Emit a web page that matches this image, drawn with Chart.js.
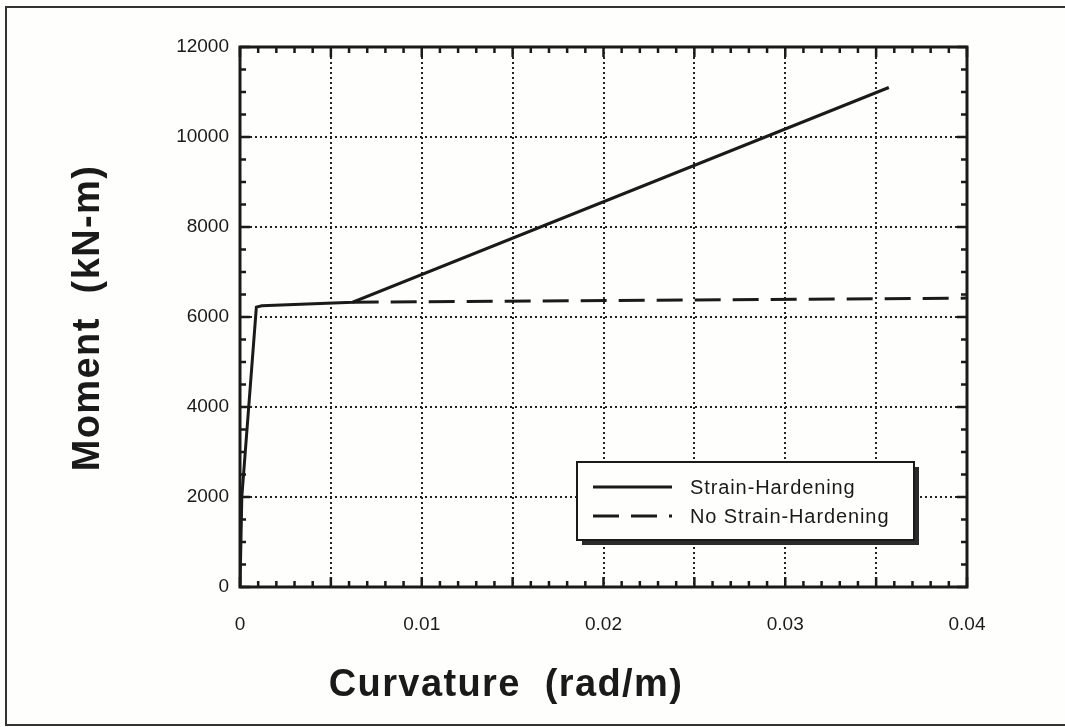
<!DOCTYPE html>
<html>
<head>
<meta charset="utf-8">
<script src="https://cdn.jsdelivr.net/npm/chart.js@4/dist/chart.umd.min.js"></script>
<style>
  html, body { margin: 0; padding: 0; background: #fefefc; }
  #wrap { width: 1065px; height: 727px; position: relative; }
</style>
</head>
<body>
<div id="wrap"><canvas id="c" width="1065" height="727"></canvas></div>
<script>
// Moment–curvature response of the section
const hardeningCurvature = [0, 0.0001, 0.0009, 0.0012, 0.0062, 0.0357];
const hardeningMoment    = [0, 2000, 6220, 6250, 6330, 11100];
const plainCurvature     = [0.0062, 0.0400];
const plainMoment        = [6330, 6420];

const seriesNames = ['Strain-Hardening', 'No Strain-Hardening'];
const xTitle = 'Curvature  (rad/m)';
const yTitle = 'Moment  (kN-m)';
const xTickLabels = ['0', '0.01', '0.02', '0.03', '0.04'];
const yTickLabels = ['0', '2000', '4000', '6000', '8000', '10000', '12000'];

const INK = '#1a1a1a';
const FAMILY = '"Liberation Sans", Arial, sans-serif';

function pts(xs, ys) { return xs.map((x, i) => ({ x: x, y: ys[i] })); }

// Frame, inward ticks, axis titles and the boxed legend
const decor = {
  id: 'decor',
  afterDraw(chart) {
    const ctx = chart.ctx;
    const a = chart.chartArea;
    const xs = chart.scales.x, ys = chart.scales.y;
    ctx.save();

    // outer page frame
    ctx.strokeStyle = '#333';
    ctx.lineWidth = 2;
    ctx.beginPath();
    ctx.moveTo(1065, 7); ctx.lineTo(6, 7); ctx.lineTo(6, 725); ctx.lineTo(1065, 725);
    ctx.stroke();

    // plot box
    ctx.strokeStyle = INK;
    ctx.lineWidth = 3;
    ctx.strokeRect(a.left, a.top, a.right - a.left, a.bottom - a.top);

    // inward ticks on all four sides
    ctx.lineWidth = 2.5;
    ctx.beginPath();
    for (let i = 0; i <= 40; i++) {
      const px = xs.getPixelForValue(i / 1000);
      const len = (i % 5 === 0) ? 10 : 6;
      ctx.moveTo(px, a.bottom); ctx.lineTo(px, a.bottom - len);
      ctx.moveTo(px, a.top); ctx.lineTo(px, a.top + len);
    }
    for (let i = 0; i <= 24; i++) {
      const py = ys.getPixelForValue(i * 500);
      const len = (i % 4 === 0) ? 10 : 6;
      ctx.moveTo(a.left, py); ctx.lineTo(a.left + len, py);
      ctx.moveTo(a.right, py); ctx.lineTo(a.right - len, py);
    }
    ctx.stroke();

    // axis titles
    ctx.fillStyle = INK;
    ctx.font = 'bold 38px ' + FAMILY;
    ctx.letterSpacing = '1.4px';
    ctx.textAlign = 'center';
    ctx.textBaseline = 'middle';
    ctx.fillText(xTitle, 506, 686);
    ctx.save();
    ctx.translate(89, 318);
    ctx.rotate(-Math.PI / 2);
    ctx.fillText(yTitle, 0, 0);
    ctx.restore();

    // legend box with drop shadow
    const bx = 577, by = 462, bw = 337, bh = 78;
    ctx.fillStyle = '#2a2a2a';
    ctx.fillRect(bx + 5, by + 5, bw, bh);
    ctx.fillStyle = '#fefefc';
    ctx.fillRect(bx, by, bw, bh);
    ctx.strokeStyle = INK;
    ctx.lineWidth = 2;
    ctx.strokeRect(bx, by, bw, bh);

    const rows = [487, 516];
    ctx.font = '20px ' + FAMILY;
    ctx.letterSpacing = '0.9px';
    ctx.textAlign = 'left';
    chart.data.datasets.forEach((d, i) => {
      ctx.strokeStyle = INK;
      ctx.lineWidth = 3;
      ctx.setLineDash(d.borderDash || []);
      ctx.beginPath();
      ctx.moveTo(593, rows[i]); ctx.lineTo(672, rows[i]);
      ctx.stroke();
      ctx.setLineDash([]);
      ctx.fillStyle = INK;
      ctx.fillText(d.label, 690, rows[i] + 1);
    });
    ctx.restore();
  }
};

// grid lines on the box edges are covered by the frame, so skip them
const gridColor = (c, max) => {
  const v = c.tick ? c.tick.value : 0;
  return (Math.abs(v) < 1e-9 || Math.abs(v - max) < 1e-9) ? 'rgba(0,0,0,0)' : '#222';
};

new Chart(document.getElementById('c'), {
  type: 'line',
  data: {
    datasets: [
      {
        label: seriesNames[0],
        data: pts(hardeningCurvature, hardeningMoment),
        borderColor: INK, borderWidth: 3, pointRadius: 0, tension: 0, fill: false
      },
      {
        label: seriesNames[1],
        data: pts(plainCurvature, plainMoment),
        borderColor: INK, borderWidth: 3, borderDash: [26, 12], pointRadius: 0, tension: 0, fill: false
      }
    ]
  },
  options: {
    responsive: false,
    animation: false,
    layout: { padding: { left: 0, top: 47, right: 98, bottom: 0 } },
    plugins: { legend: { display: false }, tooltip: { enabled: false }, title: { display: false } },
    scales: {
      x: {
        type: 'linear', min: 0, max: 0.04,
        border: { display: false, dash: [2, 3] },
        grid: { drawTicks: false, lineWidth: 2, color: (c) => gridColor(c, 0.04) },
        ticks: {
          stepSize: 0.005, padding: 26, maxRotation: 0, autoSkip: false,
          color: INK, font: { family: FAMILY, size: 19 },
          callback: (v) => {
            const k = Math.round(v * 1000);
            return (k % 10 === 0) ? xTickLabels[k / 10] : '';
          }
        },
        afterFit: (s) => { s.height = 140; }
      },
      y: {
        type: 'linear', min: 0, max: 12000,
        border: { display: false, dash: [2, 3] },
        grid: { drawTicks: false, lineWidth: 2, color: (c) => gridColor(c, 12000) },
        ticks: {
          stepSize: 2000, padding: 11, color: INK,
          font: { family: FAMILY, size: 19 },
          callback: (v) => yTickLabels[Math.round(v / 2000)]
        },
        afterFit: (s) => { s.width = 240; }
      }
    }
  },
  plugins: [decor]
});
</script>
</body>
</html>
